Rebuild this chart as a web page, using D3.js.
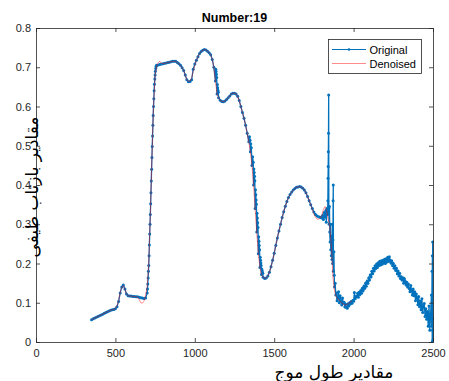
<!DOCTYPE html>
<html>
<head>
<meta charset="utf-8">
<script src="https://cdn.jsdelivr.net/npm/d3@7"></script>
<style>
  body { margin: 0; background: #fff; }
  svg text { font-family: "Liberation Sans", Arial, sans-serif; }
</style>
</head>
<body>
<div id="chart"></div>
<script>
// ---- data ----
var title = "Number:19";
var xLabel = "مقادیر طول موج";
var yLabel = "مقادیر بازتاب طیفی";
var xTicks = [0, 500, 1000, 1500, 2000, 2500];
var yTicks = [0, 0.1, 0.2, 0.3, 0.4, 0.5, 0.6, 0.7, 0.8];
var seriesNames = ["Original", "Denoised"];

// original, smooth part: 350..1790 nm every 10 nm
var smoothStart = 350, smoothStep = 10;
var originalSmooth = [
  0.057, 0.059, 0.061, 0.063, 0.065, 0.067, 0.069, 0.071, 0.073, 0.075,
  0.077, 0.079, 0.081, 0.082, 0.083, 0.085, 0.090, 0.103, 0.125, 0.140,
  0.145, 0.135, 0.122, 0.118, 0.117, 0.117, 0.116, 0.116, 0.115, 0.115,
  0.114, 0.113, 0.112, 0.111, 0.112, 0.125, 0.195, 0.325, 0.470, 0.600,
  0.680, 0.705, 0.706, 0.707, 0.708, 0.709, 0.710, 0.711, 0.712, 0.713,
  0.714, 0.715, 0.715, 0.715, 0.712, 0.709, 0.705, 0.699, 0.692, 0.680,
  0.668, 0.663, 0.664, 0.668, 0.695, 0.708, 0.718, 0.727, 0.735, 0.740,
  0.743, 0.745, 0.744, 0.741, 0.737, 0.732, 0.720, 0.700, 0.665, 0.632,
  0.622, 0.616, 0.613, 0.612, 0.614, 0.618, 0.622, 0.627, 0.632, 0.634,
  0.634, 0.632, 0.626, 0.615, 0.600, 0.585, 0.570, 0.552, 0.532, 0.510,
  0.485, 0.450, 0.400, 0.340, 0.280, 0.225, 0.190, 0.172, 0.165, 0.162,
  0.163, 0.168, 0.178, 0.192, 0.208, 0.226, 0.246, 0.265, 0.283, 0.300,
  0.317, 0.332, 0.346, 0.358, 0.368, 0.376, 0.382, 0.387, 0.391, 0.394,
  0.395, 0.396, 0.395, 0.392, 0.387, 0.380, 0.371, 0.360, 0.350, 0.340,
  0.331, 0.325, 0.321, 0.319, 0.318
];

// extra samples on the steep parts, where the dots spread out
var steepWl = [702, 704, 706, 708, 712, 714, 716, 718, 722, 724, 726, 728,
  732, 734, 736, 738, 742, 744, 746, 748, 752, 754, 756, 758,
  1132, 1134, 1136, 1138, 1142, 1144, 1146, 1148,
  1344, 1348, 1352, 1356, 1364, 1368, 1372, 1374, 1376, 1378,
  1382, 1384, 1386, 1388, 1392, 1394, 1396, 1398, 1402, 1404, 1406, 1408,
  1412, 1414, 1416, 1418, 1422, 1424, 1426, 1428];
var steepVal = [0.135, 0.148, 0.163, 0.180, 0.220, 0.247, 0.275, 0.300, 0.352, 0.380, 0.410, 0.440,
  0.498, 0.525, 0.552, 0.577, 0.620, 0.640, 0.657, 0.670, 0.690, 0.697, 0.702, 0.704,
  0.695, 0.689, 0.682, 0.674, 0.656, 0.648, 0.641, 0.636,
  0.523, 0.514, 0.505, 0.495, 0.472, 0.458, 0.441, 0.432, 0.422, 0.411,
  0.388, 0.375, 0.362, 0.351, 0.328, 0.316, 0.304, 0.292, 0.268, 0.257, 0.246, 0.235,
  0.216, 0.208, 0.201, 0.195, 0.186, 0.182, 0.178, 0.175];

// original, noisy part 1795..1900 (irregular samples)
var noisyWl = [1795, 1800, 1805, 1810, 1815, 1820, 1825, 1828, 1832, 1836,
  1838, 1839, 1840, 1841, 1842, 1843, 1844, 1846, 1848, 1850,
  1852, 1854, 1856, 1858, 1860, 1862, 1864, 1866, 1868, 1870,
  1871, 1872, 1873, 1876, 1878, 1880, 1884, 1888, 1892, 1896];
var noisyVal = [0.318, 0.316, 0.322, 0.312, 0.330, 0.318, 0.335, 0.305, 0.340, 0.325,
  0.360, 0.417, 0.447, 0.485, 0.532, 0.629, 0.340, 0.300, 0.345, 0.280,
  0.255, 0.300, 0.235, 0.270, 0.220, 0.250, 0.210, 0.300, 0.200, 0.260,
  0.360, 0.400, 0.180, 0.230, 0.170, 0.140, 0.150, 0.120, 0.125, 0.105];

// original, tail 1900..2485 every 5 nm
var tailStart = 1900, tailStep = 5;
var originalTail = [
  0.112, 0.128, 0.100, 0.118, 0.105, 0.094, 0.112, 0.099,
  0.101, 0.090, 0.096, 0.088, 0.086, 0.097, 0.092, 0.100,
  0.097, 0.103, 0.099, 0.106, 0.104, 0.126, 0.110, 0.116,
  0.115, 0.124, 0.114, 0.127, 0.121, 0.131, 0.124, 0.137,
  0.131, 0.142, 0.137, 0.150, 0.142, 0.155, 0.150, 0.163,
  0.158, 0.171, 0.166, 0.180, 0.174, 0.188, 0.181, 0.194,
  0.187, 0.199, 0.190, 0.202, 0.195, 0.206, 0.196, 0.207,
  0.198, 0.208, 0.201, 0.211, 0.200, 0.212, 0.204, 0.216,
  0.205, 0.217, 0.208, 0.201, 0.207, 0.195, 0.200, 0.188,
  0.194, 0.182, 0.188, 0.174, 0.181, 0.168, 0.175, 0.162,
  0.166, 0.158, 0.163, 0.150, 0.161, 0.155, 0.145, 0.152,
  0.140, 0.148, 0.136, 0.128, 0.144, 0.131, 0.120, 0.135,
  0.118, 0.128, 0.105, 0.122, 0.112, 0.095, 0.116, 0.090,
  0.104, 0.082, 0.110, 0.075, 0.092, 0.098, 0.065, 0.085,
  0.058, 0.078, 0.040, 0.092, 0.030, 0.070
];
// last few nm at the right edge
var edgeWl = [2490, 2492, 2494, 2495, 2496, 2497, 2498, 2499, 2500];
var edgeVal = [0.120, 0.040, 0.180, 0.000, 0.220, 0.030, 0.255, 0.060, 0.005];

// denoised: 350..2000 every 10 nm
var denoisedStart = 350, denoisedStep = 10;
var denoised = [
  0.057, 0.059, 0.061, 0.063, 0.065, 0.067, 0.069, 0.071, 0.073, 0.075,
  0.077, 0.079, 0.081, 0.082, 0.083, 0.086, 0.092, 0.105, 0.126, 0.140,
  0.144, 0.134, 0.122, 0.118, 0.117, 0.117, 0.116, 0.116, 0.115, 0.114,
  0.108, 0.100, 0.099, 0.104, 0.118, 0.140, 0.200, 0.325, 0.470, 0.600,
  0.680, 0.703, 0.712, 0.715, 0.710, 0.709, 0.710, 0.711, 0.712, 0.713,
  0.714, 0.715, 0.715, 0.715, 0.712, 0.709, 0.705, 0.699, 0.692, 0.680,
  0.668, 0.664, 0.665, 0.672, 0.690, 0.706, 0.718, 0.727, 0.735, 0.740,
  0.743, 0.745, 0.744, 0.741, 0.737, 0.732, 0.720, 0.700, 0.665, 0.632,
  0.622, 0.616, 0.613, 0.612, 0.614, 0.618, 0.622, 0.627, 0.632, 0.634,
  0.634, 0.632, 0.626, 0.615, 0.600, 0.585, 0.570, 0.552, 0.532, 0.510,
  0.485, 0.450, 0.400, 0.340, 0.280, 0.225, 0.190, 0.172, 0.165, 0.162,
  0.163, 0.168, 0.178, 0.192, 0.208, 0.226, 0.246, 0.265, 0.283, 0.300,
  0.317, 0.332, 0.346, 0.358, 0.368, 0.376, 0.382, 0.387, 0.391, 0.394,
  0.395, 0.396, 0.395, 0.392, 0.387, 0.380, 0.371, 0.360, 0.350, 0.338,
  0.326, 0.318, 0.313, 0.313, 0.316, 0.322, 0.338, 0.345, 0.335, 0.312,
  0.295, 0.245, 0.165, 0.130, 0.116, 0.110, 0.106, 0.102, 0.098, 0.095,
  0.094, 0.096, 0.099, 0.102, 0.105
];

// ---- build point lists ----
var original = [];
originalSmooth.forEach(function(v, i) { original.push([smoothStart + i * smoothStep, v]); });
steepWl.forEach(function(w, i) { original.push([w, steepVal[i]]); });
noisyWl.forEach(function(w, i) { original.push([w, noisyVal[i]]); });
originalTail.forEach(function(v, i) { original.push([tailStart + i * tailStep, v]); });
edgeWl.forEach(function(w, i) { original.push([w, edgeVal[i]]); });
original.sort(function(a, b) { return a[0] - b[0]; });

var denoisedPts = denoised.map(function(v, i) { return [denoisedStart + i * denoisedStep, v]; });

// ---- chart ----
var svgWidth = 449, svgHeight = 381;
var plotLeft = 36, plotRight = 433, plotTop = 28, plotBottom = 342;
var blue = "#0072BD";
var axisColor = "#262626";

var svg = d3.select("#chart").append("svg")
  .attr("width", svgWidth)
  .attr("height", svgHeight);

var x = d3.scaleLinear().domain([0, 2500]).range([plotLeft, plotRight]);
var y = d3.scaleLinear().domain([0, 0.8]).range([plotBottom, plotTop]);

svg.append("clipPath").attr("id", "plotclip")
  .append("rect")
  .attr("x", plotLeft).attr("y", plotTop - 1)
  .attr("width", plotRight - plotLeft + 1).attr("height", plotBottom - plotTop + 2);

var plot = svg.append("g").attr("clip-path", "url(#plotclip)");

var line = d3.line()
  .x(function(d) { return x(d[0]); })
  .y(function(d) { return y(d[1]); });

plot.append("path")
  .datum(original)
  .attr("fill", "none")
  .attr("stroke", blue)
  .attr("stroke-width", 1.3)
  .attr("d", line);

plot.selectAll("circle.orig")
  .data(original)
  .join("circle")
  .attr("class", "orig")
  .attr("cx", function(d) { return x(d[0]); })
  .attr("cy", function(d) { return y(d[1]); })
  .attr("r", 1.5)
  .attr("fill", blue);

plot.append("path")
  .datum(denoisedPts)
  .attr("fill", "none")
  .attr("stroke", "#ff0000")
  .attr("stroke-opacity", 0.45)
  .attr("stroke-width", 1)
  .attr("d", line);

// axes (ticks pointing inward, box on)
function styleAxis(g) {
  g.selectAll("path, line").attr("stroke", axisColor).attr("stroke-width", 0.8);
  g.selectAll("text").attr("fill", axisColor).style("font-size", "11px")
    .style("font-family", "'Liberation Sans', Arial, sans-serif");
}

svg.append("g")
  .attr("transform", "translate(0," + plotBottom + ")")
  .call(d3.axisBottom(x).tickValues(xTicks).tickSizeInner(-4).tickSizeOuter(0).tickPadding(7)
    .tickFormat(d3.format("d")))
  .call(styleAxis);

svg.append("g")
  .attr("transform", "translate(0," + plotTop + ")")
  .call(d3.axisTop(x).tickValues(xTicks).tickSizeInner(-4).tickSizeOuter(0).tickFormat(""))
  .call(styleAxis);

svg.append("g")
  .attr("transform", "translate(" + plotLeft + ",0)")
  .call(d3.axisLeft(y).tickValues(yTicks).tickSizeInner(-4).tickSizeOuter(0).tickPadding(5)
    .tickFormat(function(d) { return d === 0 ? "0" : d3.format(".1f")(d); }))
  .call(styleAxis);

svg.append("g")
  .attr("transform", "translate(" + plotRight + ",0)")
  .call(d3.axisRight(y).tickValues(yTicks).tickSizeInner(-4).tickSizeOuter(0).tickFormat(""))
  .call(styleAxis);

// title
svg.append("text")
  .attr("x", (plotLeft + plotRight) / 2)
  .attr("y", 22)
  .attr("text-anchor", "middle")
  .attr("fill", "#000")
  .style("font-size", "12.5px")
  .style("font-weight", "bold")
  .text(title);

// axis labels
svg.append("text")
  .attr("x", 334)
  .attr("y", 378)
  .attr("text-anchor", "middle")
  .attr("fill", "#000")
  .style("font-family", "'DejaVu Sans', sans-serif")
  .style("font-size", "17px")
  .text(xLabel);

svg.append("text")
  .attr("transform", "translate(38,187) rotate(-90)")
  .attr("text-anchor", "middle")
  .attr("fill", "#000")
  .style("font-family", "'DejaVu Sans', sans-serif")
  .style("font-size", "17px")
  .text(yLabel);

// legend
var legend = svg.append("g");
legend.append("rect")
  .attr("x", 328.5).attr("y", 39.5)
  .attr("width", 93).attr("height", 34)
  .attr("fill", "#fff")
  .attr("stroke", axisColor)
  .attr("stroke-width", 0.8);

var rows = [49.5, 63.5];
legend.append("line")
  .attr("x1", 332).attr("x2", 366).attr("y1", rows[0]).attr("y2", rows[0])
  .attr("stroke", blue).attr("stroke-width", 1);
legend.append("circle")
  .attr("cx", 349).attr("cy", rows[0]).attr("r", 1.3).attr("fill", blue);
legend.append("line")
  .attr("x1", 332).attr("x2", 366).attr("y1", rows[1]).attr("y2", rows[1])
  .attr("stroke", "#ff0000").attr("stroke-opacity", 0.45).attr("stroke-width", 1);

legend.selectAll("text.leg")
  .data(seriesNames)
  .join("text")
  .attr("class", "leg")
  .attr("x", 369.5)
  .attr("y", function(d, i) { return rows[i] + 4; })
  .attr("fill", "#000")
  .style("font-size", "11px")
  .text(function(d) { return d; });
</script>
</body>
</html>
